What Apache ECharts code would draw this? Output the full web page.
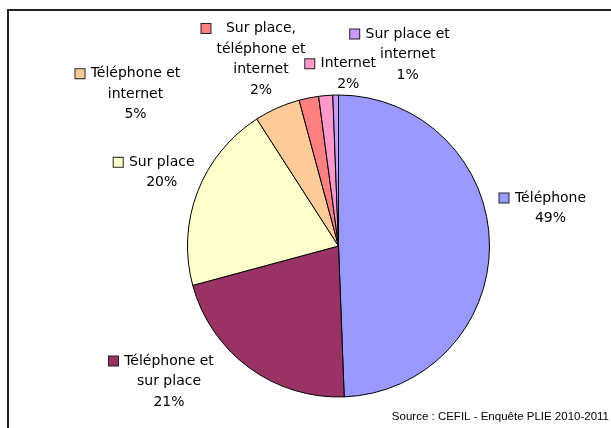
<!DOCTYPE html>
<html>
<head>
<meta charset="utf-8">
<script src="https://cdn.jsdelivr.net/npm/echarts@6/dist/echarts.min.js"></script>
<style>
html,body{margin:0;padding:0;background:#fff;}
#chart{width:611px;height:428px;}
</style>
</head>
<body>
<div id="chart"></div>
<script>
// ---- data ----
const categories = ['Téléphone', 'Téléphone et sur place', 'Sur place', 'Téléphone et internet',
  'Sur place, téléphone et internet', 'Internet', 'Sur place et internet'];
const values = [49.4, 21.4, 20.1, 4.9, 2.1, 1.5, 0.6];
const labelLines = [
  ['Téléphone'],
  ['Téléphone et', 'sur place'],
  ['Sur place'],
  ['Téléphone et', 'internet'],
  ['Sur place,', 'téléphone et', 'internet'],
  ['Internet'],
  ['Sur place et', 'internet']
];
const sourceText = 'Source : CEFIL - Enquête PLIE 2010-2011';

// ---- style / layout ----
const colors = ['#9999FF', '#993366', '#FFFFCC', '#FFCC99', '#FF8080', '#FF99CC', '#CC99FF'];
const labelFont = '"DejaVu Sans", sans-serif';
const labelSize = 14;
const lineH = 20.5;
// text column centre (x) and first-line centre (y) of each label
const labelSpots = [[550.5, 198], [169, 361], [161.7, 162.3], [135.5, 73.7], [261, 28.5], [348.3, 63.8], [407.7, 34]];

const measureCtx = document.createElement('canvas').getContext('2d');
measureCtx.font = labelSize + 'px "DejaVu Sans"';
const rich = { g: { width: 6, height: 9 }, s: { width: 15, height: 9 } };
categories.forEach(function (c, i) {
  const lines = labelLines[i].concat(['100%']);
  let w = 0;
  lines.forEach(function (l) { w = Math.max(w, measureCtx.measureText(l).width); });
  rich['m' + i] = { width: 9, height: 9, backgroundColor: colors[i], borderColor: '#222', borderWidth: 1 };
  rich['t' + i] = { width: Math.ceil(w), align: 'center', fontSize: labelSize, fontFamily: labelFont,
    color: '#000', lineHeight: lineH };
});

const chart = echarts.init(document.getElementById('chart'), null, { renderer: 'canvas' });
chart.setOption({
  animation: false,
  backgroundColor: '#fff',
  title: {
    text: sourceText,
    right: 2,
    top: 411,
    padding: 0,
    textStyle: { fontSize: 11.5, fontWeight: 'normal', fontFamily: '"Liberation Sans", Arial, sans-serif', color: '#000' }
  },
  graphic: [{
    type: 'rect',
    shape: { x: 8, y: 10, width: 800, height: 600 },
    style: { fill: null, stroke: '#222', lineWidth: 2 },
    silent: true
  }],
  series: [{
    type: 'pie',
    center: [338.5, 246],
    radius: 151,
    startAngle: 90,
    clockwise: true,
    avoidLabelOverlap: false,
    percentPrecision: 0,
    data: categories.map(function (c, i) { return { name: c, value: values[i] }; }),
    itemStyle: {
      color: function (p) { return colors[p.dataIndex]; },
      borderColor: '#000',
      borderWidth: 1
    },
    label: {
      show: true,
      position: 'outside',
      lineHeight: lineH,
      formatter: function (p) {
        const i = p.dataIndex;
        const lines = labelLines[i];
        let s = '{m' + i + '|}{g|}{t' + i + '|' + lines[0] + '}';
        for (let k = 1; k < lines.length; k++) s += '\n{s|}{t' + i + '|' + lines[k] + '}';
        s += '\n{s|}{t' + i + '|' + p.percent + '%}';
        return s;
      },
      rich: rich
    },
    labelLine: { show: false },
    labelLayout: function (p) {
      const spot = labelSpots[p.dataIndex];
      return { x: spot[0] - 7.5, y: spot[1] - lineH / 2, align: 'center', verticalAlign: 'top' };
    },
    emphasis: { disabled: true }
  }]
});
</script>
</body>
</html>
